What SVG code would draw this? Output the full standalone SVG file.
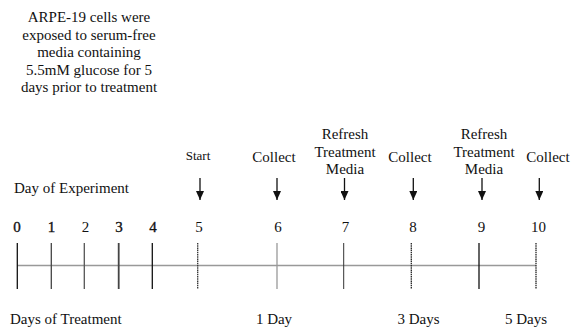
<svg xmlns="http://www.w3.org/2000/svg" width="573" height="328" viewBox="0 0 573 328">
<style>
text{font-family:"Liberation Serif","Noto Serif","DejaVu Serif",serif;font-size:15px;fill:#111;text-anchor:middle}
.s{font-size:13px}
.l{text-anchor:start}
.b{stroke:#111;stroke-width:0.35}
.arr{stroke:#111;stroke-width:1.3;fill:none}
.tick{stroke-width:1.3}
</style>
<defs>
<marker id="ah" viewBox="0 0 9 8" refX="9" refY="4" markerWidth="9" markerHeight="8" markerUnits="userSpaceOnUse" orient="auto">
<path d="M0,0 L9,4 L0,8 Z" fill="#111"/>
</marker>
</defs>
<g id="note">
<text x="89" y="22">ARPE-19 cells were</text>
<text x="89" y="39.5">exposed to serum-free</text>
<text x="89" y="57">media containing</text>
<text x="89" y="74.5">5.5mM glucose for 5</text>
<text x="89" y="92">days prior to treatment</text>
</g>
<g id="event-start">
<text class="s" x="198" y="160">Start</text>
</g>
<g id="event-collect-6">
<text x="274" y="162">Collect</text>
</g>
<g id="event-refresh-7">
<text x="345" y="139">Refresh</text>
<text x="345" y="156.5">Treatment</text>
<text x="345" y="174">Media</text>
</g>
<g id="event-collect-8">
<text x="410" y="162">Collect</text>
</g>
<g id="event-refresh-9">
<text x="484" y="139">Refresh</text>
<text x="484" y="156.5">Treatment</text>
<text x="484" y="174">Media</text>
</g>
<g id="event-collect-10">
<text x="548" y="162">Collect</text>
</g>
<g id="axis-label-experiment">
<text class="l" x="14" y="193">Day of Experiment</text>
</g>
<g id="day-numbers">
<text class="b" x="17" y="232">0</text>
<text class="b" x="51.5" y="232">1</text>
<text x="85.5" y="232">2</text>
<text class="b" x="119" y="232">3</text>
<text class="b" x="153" y="232">4</text>
<text x="199" y="232">5</text>
<text x="278" y="232">6</text>
<text x="345.5" y="232">7</text>
<text x="413" y="232">8</text>
<text x="481.5" y="232">9</text>
<text x="538.5" y="232">10</text>
</g>
<g id="timeline">
<line x1="17" y1="265.5" x2="536" y2="265.5" stroke="#999" stroke-width="1.5"/>
<line class="tick" x1="17.3" y1="243" x2="17.3" y2="289" stroke="#111"/>
<line class="tick" x1="51.3" y1="243" x2="51.3" y2="289" stroke="#444"/>
<line class="tick" x1="84.3" y1="243" x2="84.3" y2="289" stroke="#555"/>
<line x1="118.7" y1="243" x2="118.7" y2="289" stroke="#444" stroke-width="1.8"/>
<line class="tick" x1="152.3" y1="243" x2="152.3" y2="289" stroke="#111"/>
<line class="tick" x1="197.7" y1="243" x2="197.7" y2="289" stroke="#333" stroke-dasharray="1.5 0.7"/>
<line class="tick" x1="277" y1="243" x2="277" y2="289" stroke="#999"/>
<line x1="343.7" y1="243" x2="343.7" y2="289" stroke="#333" stroke-width="1"/>
<line class="tick" x1="411.3" y1="243" x2="411.3" y2="289" stroke="#222" stroke-dasharray="1.5 0.7"/>
<line class="tick" x1="479" y1="243" x2="479" y2="289" stroke="#111"/>
<line class="tick" x1="536" y1="243" x2="536" y2="289" stroke="#222" stroke-dasharray="1.5 0.7"/>
</g>
<g id="connectors">
<line class="arr" x1="200" y1="178" x2="200" y2="200" marker-end="url(#ah)"/>
<line class="arr" x1="277" y1="178" x2="277" y2="200" marker-end="url(#ah)"/>
<line class="arr" x1="344.5" y1="178" x2="344.5" y2="200" marker-end="url(#ah)"/>
<line class="arr" x1="413.3" y1="178" x2="413.3" y2="200" marker-end="url(#ah)"/>
<line class="arr" x1="482" y1="178" x2="482" y2="200" marker-end="url(#ah)"/>
<line class="arr" x1="539.3" y1="178" x2="539.3" y2="200" stroke="#777" marker-end="url(#ah)"/>
</g>
<g id="treatment-labels">
<text class="l" x="10" y="324">Days of Treatment</text>
<text x="274" y="324">1 Day</text>
<text x="418.5" y="324">3 Days</text>
<text x="526" y="324">5 Days</text>
</g>
</svg>
